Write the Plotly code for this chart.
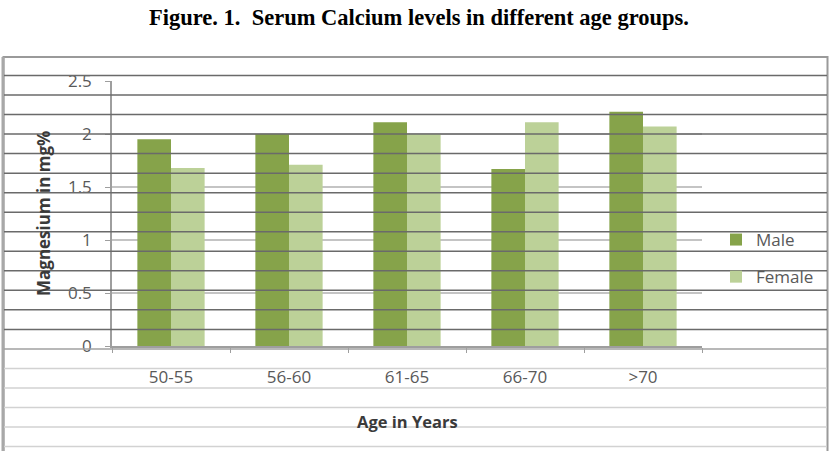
import plotly.graph_objects as go

categories = ["50-55", "56-60", "61-65", "66-70", ">70"]
male = [1.95, 2.0, 2.11, 1.67, 2.21]
female = [1.68, 1.71, 2.0, 2.11, 2.07]
series_names = ["Male", "Female"]
title_text = "Figure. 1.  Serum Calcium levels in different age groups."
x_title = "Age in Years"
y_title = "Magnesium in mg%"

W, H = 836, 451
L, R, T, B = 112, 134, 81, 105
PW, PH = W - L - R, H - T - B


def px2x(px):
    return (px - L) / PW


def py2y(py):
    return (H - B - py) / PH


fig = go.Figure()
fig.add_trace(go.Bar(x=categories, y=male, name=series_names[0], legendgroup="m",
                     marker=dict(color="#86a34a", line=dict(width=0))))
fig.add_trace(go.Bar(x=categories, y=female, name=series_names[1], legendgroup="f",
                     marker=dict(color="#bcd198", line=dict(width=0))))

shapes = []
shapes.append(dict(type="rect", xref="paper", yref="paper",
                   x0=px2x(3.5), x1=px2x(827.5), y0=py2y(460), y1=py2y(57),
                   line=dict(color="#9a9a9a", width=2), layer="above"))
shapes.append(dict(type="line", xref="paper", yref="paper",
                   x0=px2x(3), x1=px2x(3), y0=py2y(460), y1=py2y(57),
                   line=dict(color="#a8a8a8", width=3), layer="above"))
for i in range(20):
    py = 75.5 + i * 19.53
    col = "#6a6a6a" if py < 340 else ("#a0a0a0" if py < 360 else "#d2d2d2")
    shapes.append(dict(type="line", xref="paper", yref="paper",
                       x0=px2x(4), x1=px2x(827), y0=py2y(py), y1=py2y(py),
                       line=dict(color=col, width=1.5), layer="above"))

annotations = [
    dict(text="<b>" + title_text + "</b>", xref="paper", yref="paper",
         x=px2x(419), y=py2y(17), showarrow=False, xanchor="center", yanchor="middle",
         font=dict(family="Liberation Serif", size=22.5, color="#000000")),
    dict(text="<b>" + x_title + "</b>", xref="paper", yref="paper",
         x=px2x(407), y=py2y(421), showarrow=False, xanchor="center", yanchor="middle",
         font=dict(family="Open Sans", size=16.5, color="#3a3a3a")),
    dict(text="<b>" + y_title + "</b>", xref="paper", yref="paper",
         x=px2x(43), y=py2y(214), showarrow=False, xanchor="center", yanchor="middle",
         textangle=-90,
         font=dict(family="Open Sans", size=17, color="#3a3a3a")),
]

fig.update_layout(
    width=W, height=H,
    margin=dict(l=L, r=R, t=T, b=B, pad=0, autoexpand=False),
    paper_bgcolor="white", plot_bgcolor="white",
    barmode="group", bargap=0.43, bargroupgap=0,
    showlegend=True,
    legend=dict(x=px2x(716), y=py2y(222), xanchor="left", yanchor="top",
                font=dict(family="Open Sans", size=17, color="#595959"),
                bgcolor="rgba(0,0,0,0)", tracegroupgap=12, traceorder="grouped",
                itemwidth=30),
    shapes=shapes,
    annotations=annotations,
    font=dict(family="Open Sans", color="#595959"),
)

fig.update_xaxes(
    type="category", showline=True, linecolor="#9e9e9e", linewidth=1.5,
    ticks="outside", tickson="boundaries", ticklen=5, tickcolor="#9e9e9e",
    tickfont=dict(family="Open Sans", size=17, color="#595959"),
    ticklabelstandoff=15, showgrid=False, zeroline=False,
)
fig.update_yaxes(
    range=[0, 2.5], dtick=0.5,
    showline=True, linecolor="#9e9e9e", linewidth=1.5,
    ticks="outside", ticklen=5, tickcolor="#9e9e9e",
    tickfont=dict(family="Open Sans", size=17, color="#595959"),
    ticklabelstandoff=10,
    showgrid=True, gridcolor="#c4c4c4", gridwidth=1.5, zeroline=False,
)

fig.write_html("out.html")
